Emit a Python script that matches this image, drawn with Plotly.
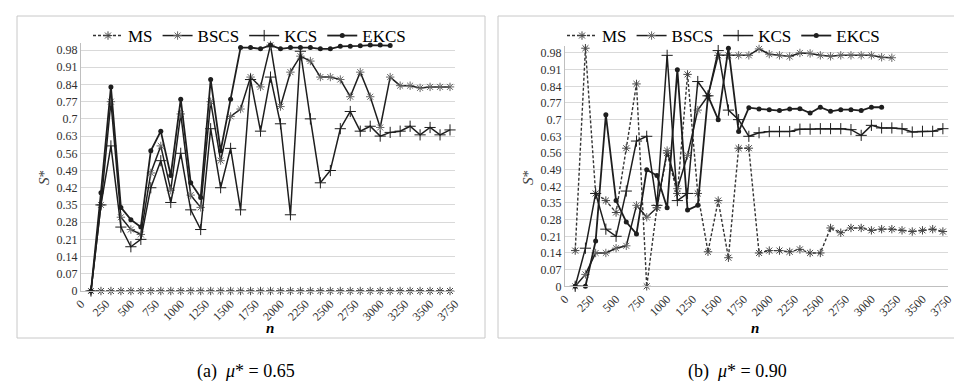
import plotly.graph_objects as go

n_values = list(range(100, 3800, 100))  # 100 .. 3700

# ---- panel (a) mu* = 0.65 ----
a_ms = [0.0] * 37
a_bscs = [0, 0.35, 0.77, 0.30, 0.25, 0.23, 0.48, 0.59, 0.41, 0.72, 0.39, 0.34, 0.77, 0.53, 0.71,
          0.74, 0.87, 0.83, 1.0, 0.75, 0.89, 0.955, 0.935, 0.87, 0.87, 0.86, 0.79, 0.89, 0.79, 0.665,
          0.87, 0.835, 0.835, 0.826, 0.83, 0.83, 0.83]
a_kcs = [0, 0.35, 0.59, 0.26, 0.18, 0.21, 0.42, 0.53, 0.36, 0.56, 0.33, 0.25, 0.66, 0.42, 0.58,
         0.33, 0.86, 0.65, 0.87, 0.68, 0.31, 0.975, 0.70, 0.44, 0.49, 0.66, 0.73, 0.65, 0.67, 0.63,
         0.645, 0.65, 0.67, 0.635, 0.665, 0.635, 0.655]
a_ekcs = [0, 0.40, 0.83, 0.34, 0.29, 0.26, 0.57, 0.65, 0.47, 0.78, 0.44, 0.38, 0.86, 0.57, 0.78,
          0.99, 0.99, 0.985, 1.0, 0.985, 0.99, 0.99, 0.99, 0.985, 0.985, 0.995, 0.995, 0.997, 1.0, 1.0,
          0.998]

# ---- panel (b) mu* = 0.90 ----
b_ms = [0.15, 1.0, 0.39, 0.36, 0.31, 0.58, 0.85, 0.0, 0.33, 0.56, 0.39, 0.89, 0.39, 0.145, 0.36,
        0.12, 0.58, 0.58, 0.14, 0.15, 0.15, 0.145, 0.155, 0.14, 0.14, 0.245, 0.225, 0.245, 0.245, 0.235,
        0.24, 0.24, 0.235, 0.23, 0.235, 0.24, 0.23]
b_bscs = [0, 0.05, 0.14, 0.14, 0.16, 0.17, 0.34, 0.29, 0.33, 0.57, 0.41, 0.55, 0.74, 0.80, 0.97,
          0.97, 0.97, 0.97, 0.997, 0.975, 0.97, 0.965, 0.98, 0.978, 0.97, 0.966, 0.97, 0.97, 0.97, 0.97,
          0.962, 0.96]
b_kcs = [0, 0.16, 0.39, 0.24, 0.21, 0.40, 0.61, 0.63, 0.34, 0.97, 0.36, 0.39, 0.86, 0.80, 0.99,
         0.74, 0.70, 0.63, 0.645, 0.65, 0.65, 0.65, 0.66, 0.66, 0.662, 0.662, 0.662, 0.658, 0.634, 0.676,
         0.665, 0.665, 0.662, 0.648, 0.651, 0.651, 0.662]
b_ekcs = [0, 0, 0.19, 0.72, 0.36, 0.27, 0.22, 0.49, 0.465, 0.33, 0.91, 0.32, 0.34, 0.80, 0.70,
          1.0, 0.65, 0.75, 0.745, 0.742, 0.738, 0.745, 0.746, 0.728, 0.752, 0.735, 0.742, 0.742, 0.738, 0.752,
          0.752]

series_names = ["MS", "BSCS", "KCS", "EKCS"]
y_ticks = [0, 0.07, 0.14, 0.21, 0.28, 0.35, 0.42, 0.49, 0.56, 0.63, 0.7, 0.77, 0.84, 0.91, 0.98]
y_tick_text = ["0", "0.07", "0.14", "0.21", "0.28", "0.35", "0.42", "0.49", "0.56", "0.63",
               "0.7", "0.77", "0.84", "0.91", "0.98"]
x_ticks = list(range(0, 3751, 250))
captions = ["(a)  <i>μ</i>* = 0.65", "(b)  <i>μ</i>* = 0.90"]

W, H = 962, 385
FONT = "Liberation Serif, Times New Roman, serif"
INK = "#1e1e1e"

styles = {
    "MS": dict(line=dict(color="#333333", width=1.4, dash="3px,2px"),
               marker=dict(symbol="asterisk-open", size=7, color="#444444", line=dict(width=1, color="#444444"))),
    "BSCS": dict(line=dict(color=INK, width=1.5),
                 marker=dict(symbol="asterisk-open", size=7, color="#666666", line=dict(width=1, color="#666666"))),
    "KCS": dict(line=dict(color=INK, width=1.5),
                marker=dict(symbol="cross-thin-open", size=8, color=INK, line=dict(width=1, color=INK))),
    "EKCS": dict(line=dict(color=INK, width=1.8),
                 marker=dict(symbol="circle", size=5, color=INK)),
}

fig = go.Figure()

panels = [
    dict(data=[a_ms, a_bscs, a_kcs, a_ekcs], xa="x", ya="y", legend="legend"),
    dict(data=[b_ms, b_bscs, b_kcs, b_ekcs], xa="x2", ya="y2", legend="legend2"),
]
for p in panels:
    for name, vals in zip(series_names, p["data"]):
        st = styles[name]
        fig.add_trace(go.Scatter(
            x=n_values[:len(vals)], y=vals, name=name, mode="lines+markers",
            line=st["line"], marker=st["marker"], xaxis=p["xa"], yaxis=p["ya"],
            legend=p["legend"], cliponaxis=False,
        ))

def px_x(v):
    return v / W

def px_y(v):
    return 1 - v / H

# plot areas in pixels
A = dict(l=73, r=447, y0=283.0, unit=245.9)
B = dict(l=557, r=940, y0=278.3, unit=238.1)
YMAX = 1.01

def ydom(P):
    return [px_y(P["y0"]), px_y(P["y0"] - YMAX * P["unit"])]

tickfont = dict(family=FONT, size=12, color="#303030")
xax = dict(range=[0, 3750], tickmode="array", tickvals=x_ticks, ticktext=[str(t) for t in x_ticks],
           tickangle=-45, showgrid=False, zeroline=False, showline=True, linecolor="#bfbfbf",
           ticks="", tickfont=tickfont, fixedrange=True, automargin=False)
yax = dict(range=[0, YMAX], tickmode="array", tickvals=y_ticks, ticktext=y_tick_text,
           showgrid=True, gridcolor="#d9d9d9", gridwidth=1, zeroline=False, showline=True,
           linecolor="#bfbfbf", ticks="", tickfont=tickfont, fixedrange=True, automargin=False)

fig.update_layout(
    template="none",
    width=W, height=H, margin=dict(l=0, r=0, t=0, b=0, autoexpand=False),
    paper_bgcolor="white", plot_bgcolor="white",
    font=dict(family=FONT, color="#000000"),
    xaxis=dict(xax, domain=[px_x(A["l"]), px_x(A["r"])], anchor="y"),
    yaxis=dict(yax, domain=ydom(A), anchor="x"),
    xaxis2=dict(xax, domain=[px_x(B["l"]), px_x(B["r"])], anchor="y2"),
    yaxis2=dict(yax, domain=ydom(B), anchor="x2"),
    legend=dict(orientation="h", x=px_x(80), y=px_y(28), xanchor="left", yanchor="middle",
                font=dict(family=FONT, size=17, color="#000"), bgcolor="rgba(0,0,0,0)",
                itemwidth=30, tracegroupgap=0),
    legend2=dict(orientation="h", x=px_x(554), y=px_y(28), xanchor="left", yanchor="middle",
                 font=dict(family=FONT, size=17, color="#000"), bgcolor="rgba(0,0,0,0)",
                 itemwidth=30, tracegroupgap=0),
    showlegend=True,
)

# panel boxes
for x0, x1 in [(9, 477), (490, 956)]:
    fig.add_shape(type="rect", xref="paper", yref="paper",
                  x0=px_x(x0), x1=px_x(x1), y0=px_y(330), y1=px_y(8),
                  line=dict(color="#c8c8c8", width=1), fillcolor="rgba(0,0,0,0)", layer="below")

# axis titles and captions
for nx, sx, capx, cap in [(262, 36, 238, captions[0]), (747, 520, 729, captions[1])]:
    fig.add_annotation(text="<b><i>n</i></b>", x=px_x(nx), y=px_y(320), xref="paper", yref="paper",
                       xanchor="center", yanchor="middle",
                       showarrow=False, font=dict(family=FONT, size=15, color="#000"))
    fig.add_annotation(text="<i>S</i>*", x=px_x(sx), y=px_y(170), xref="paper", yref="paper",
                       xanchor="center", yanchor="middle",
                       showarrow=False, textangle=-90, font=dict(family=FONT, size=15, color="#404040"))
    fig.add_annotation(text=cap, x=px_x(capx), y=px_y(363), xref="paper", yref="paper",
                       xanchor="center", yanchor="middle",
                       showarrow=False, font=dict(family=FONT, size=18, color="#000"))

fig.write_html("out.html")
